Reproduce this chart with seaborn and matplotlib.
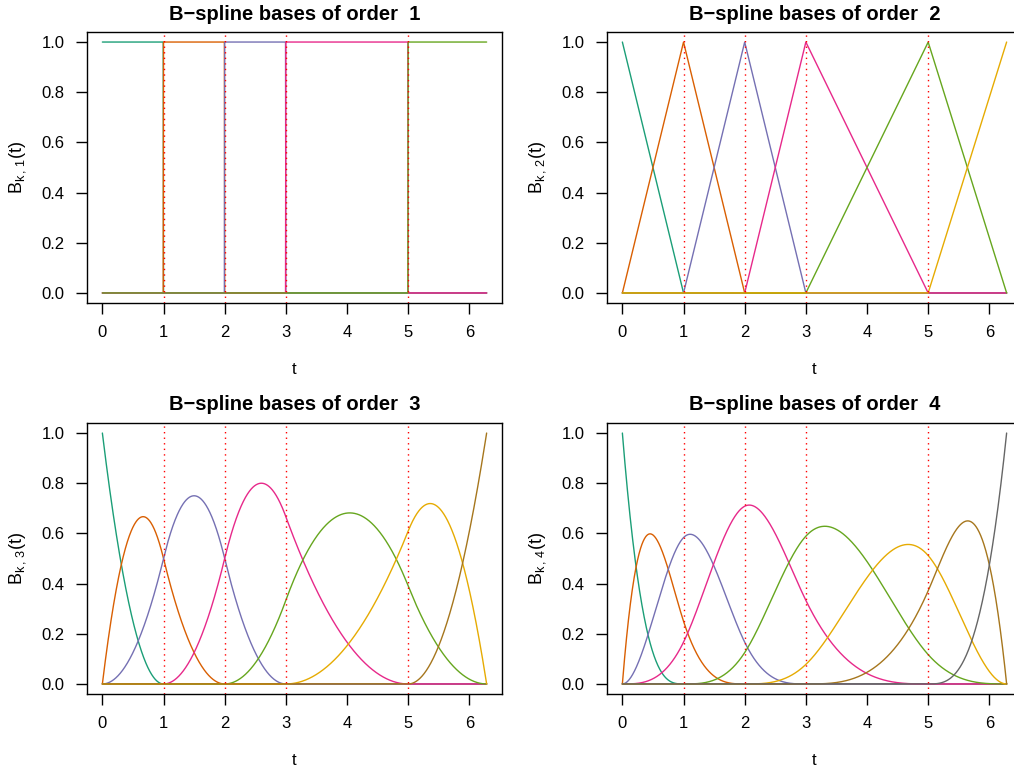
import numpy as np
import pandas as pd
import matplotlib
matplotlib.use('Agg')
import matplotlib.pyplot as plt
import seaborn as sns

# knots
boundary_knots = [0.0, 2 * np.pi]
interior_knots = [1.0, 2.0, 3.0, 5.0]
orders = [1, 2, 3, 4]
x_ticks = [0, 1, 2, 3, 4, 5, 6]
y_ticks = [0.0, 0.2, 0.4, 0.6, 0.8, 1.0]

t = np.linspace(boundary_knots[0], boundary_knots[1], 1201)


def bspline_basis(t, m):
    # Cox-de Boor recursion on the augmented knot sequence
    tau = np.array([boundary_knots[0]] * m + interior_knots + [boundary_knots[1]] * m)
    n1 = len(tau) - 1
    B = np.zeros((len(t), n1))
    for i in range(n1):
        if tau[i] < tau[i + 1]:
            B[:, i] = (t >= tau[i]) & (t < tau[i + 1])
    last = np.max(np.nonzero(tau[:-1] < tau[1:])[0])
    B[t == tau[-1], last] = 1.0
    for k in range(2, m + 1):
        Bn = np.zeros((len(t), n1 - k + 1))
        for i in range(n1 - k + 1):
            d1 = tau[i + k - 1] - tau[i]
            d2 = tau[i + k] - tau[i + 1]
            a = (t - tau[i]) / d1 * B[:, i] if d1 > 0 else 0.0
            b = (tau[i + k] - t) / d2 * B[:, i + 1] if d2 > 0 else 0.0
            Bn[:, i] = a + b
        B = Bn
    return B


sns.set_style('ticks')
plt.rcParams['font.family'] = ['Liberation Sans', 'DejaVu Sans']
plt.rcParams['mathtext.fontset'] = 'custom'
plt.rcParams['mathtext.rm'] = 'Liberation Sans'
plt.rcParams['mathtext.it'] = 'Liberation Sans'
plt.rcParams['mathtext.bf'] = 'Liberation Sans:bold'
for key in ['text.color', 'axes.labelcolor', 'xtick.color', 'ytick.color', 'axes.edgecolor']:
    plt.rcParams[key] = 'black'

fig = plt.figure(figsize=(10.14, 7.69), dpi=100)
W, H = 1014, 769
# panel boxes in pixels (left, top, right, bottom)
boxes = [(87, 32, 502, 303), (607, 32, 1022, 303),
         (87, 423, 502, 694), (607, 423, 1022, 694)]

pad = 0.04 * (boundary_knots[1] - boundary_knots[0])
for m, (l, tp, r, b) in zip(orders, boxes):
    ax = fig.add_axes([l / W, 1 - b / H, (r - l) / W, (b - tp) / H])
    B = bspline_basis(t, m)
    df = pd.DataFrame(B, columns=[f'b{j}' for j in range(B.shape[1])])
    df['t'] = t
    long = df.melt(id_vars='t', var_name='basis', value_name='B')
    sns.lineplot(data=long, x='t', y='B', hue='basis', estimator=None, sort=False,
                 palette=sns.color_palette('Dark2', B.shape[1]), linewidth=1.0,
                 legend=False, ax=ax)
    for k in interior_knots:
        ax.axvline(k, color='red', linestyle=(0, (1, 3)), linewidth=1.0)
    ax.set_xlim(boundary_knots[0] - pad, boundary_knots[1] + pad)
    ax.set_ylim(-0.04, 1.04)
    ax.set_xticks(x_ticks)
    ax.set_yticks(y_ticks)
    ax.set_yticklabels([f'{v:.1f}' for v in y_ticks])
    ax.tick_params(direction='out', length=8, width=1, labelsize=12, pad=8, color='black')
    for s in ax.spines.values():
        s.set_visible(True)
        s.set_linewidth(1.0)
        s.set_color('black')
    ax.set_xlabel('t', fontsize=12, labelpad=16)
    ax.set_ylabel(rf'$\mathrm{{B}}_{{k\,,\,{m}}}(t)$', fontsize=13, labelpad=10)
    ax.set_title(f'B\u2212spline bases of order  {m}', fontsize=14.5, fontweight='bold', pad=9)

fig.savefig('out.png', dpi=100)
